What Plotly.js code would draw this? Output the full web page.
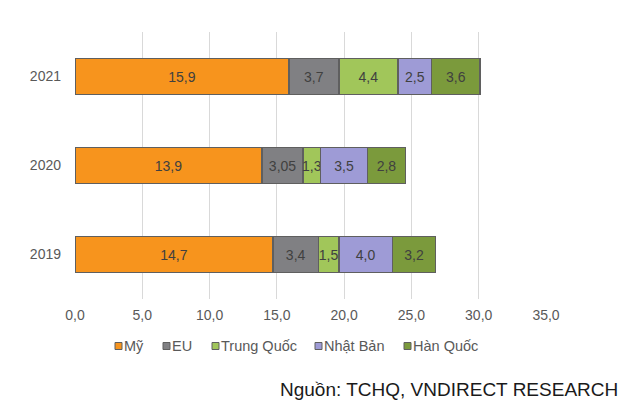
<!DOCTYPE html>
<html>
<head>
<meta charset="utf-8">
<script src="https://cdn.plot.ly/plotly-3.0.1.min.js"></script>
<style>html,body{margin:0;padding:0;background:#fff;}#chart{width:630px;height:406px;}</style>
</head>
<body>
<div id="chart"></div>
<script>
const years = ['2019', '2020', '2021'];
const seriesNames = ['Mỹ', 'EU', 'Trung Quốc', 'Nhật Bản', 'Hàn Quốc'];
const my = [14.7, 13.9, 15.9];
const eu = [3.4, 3.05, 3.7];
const trungQuoc = [1.5, 1.3, 4.4];
const nhatBan = [4.0, 3.5, 2.5];
const hanQuoc = [3.2, 2.8, 3.6];
const xTicks = [0, 5, 10, 15, 20, 25, 30, 35];
const sourceText = 'Nguồn: TCHQ, VNDIRECT RESEARCH';

const colors = ['#F7941D', '#808083', '#A1C65A', '#9E9BD6', '#7B9A3C'];
const allValues = [my, eu, trungQuoc, nhatBan, hanQuoc];

// plot area in pixels (for placing the custom legend / source in paper coords)
const PL = 75, PR = 546, PT = 32, PB = 299;
const px2x = p => (p - PL) / (PR - PL);
const px2y = p => (PB - p) / (PB - PT);
const legendLeft = [115, 163, 212, 315, 404];

function fmt(v) {
  const s = (Math.abs(Math.round(v * 10) - v * 10) < 1e-9) ? v.toFixed(1) : String(v);
  return s.replace('.', ',');
}

const traces = allValues.map((vals, i) => ({
  type: 'bar',
  orientation: 'h',
  name: seriesNames[i],
  y: years,
  x: vals,
  text: vals.map(fmt),
  textposition: 'inside',
  insidetextanchor: 'middle',
  constraintext: 'none',
  textangle: 0,
  textfont: {family: 'Liberation Sans, Arial, sans-serif', size: 14, color: '#404040'},
  marker: {color: colors[i], line: {color: '#5f5f5f', width: 1.5}},
  hoverinfo: 'skip'
}));

const shapes = [];
const annotations = [];
seriesNames.forEach((name, i) => {
  const x0 = legendLeft[i];
  shapes.push({
    type: 'rect', xref: 'paper', yref: 'paper',
    x0: px2x(x0), x1: px2x(x0 + 7),
    y0: px2y(342.5), y1: px2y(349.5),
    fillcolor: colors[i], line: {color: '#5f5f5f', width: 1}
  });
  annotations.push({
    text: name, xref: 'paper', yref: 'paper',
    x: px2x(x0 + 7.5), xanchor: 'left',
    y: px2y(346), yanchor: 'middle',
    showarrow: false, borderpad: 0,
    font: {family: 'Liberation Sans, Arial, sans-serif', size: 14.5, color: '#595959'}
  });
});
annotations.push({
  text: sourceText,
  xref: 'paper', yref: 'paper',
  x: px2x(619), xanchor: 'right',
  y: px2y(389), yanchor: 'middle',
  showarrow: false, borderpad: 0,
  font: {family: 'Liberation Sans, Arial, sans-serif', size: 19, color: '#1a1a1a'}
});

const layout = {
  width: 630,
  height: 406,
  margin: {l: PL, r: 630 - PR, t: PT, b: 406 - PB},
  barmode: 'stack',
  bargap: 0.6,
  paper_bgcolor: '#ffffff',
  plot_bgcolor: '#ffffff',
  font: {family: 'Liberation Sans, Arial, sans-serif', size: 14, color: '#595959'},
  separators: ',.',
  showlegend: false,
  xaxis: {
    range: [0, 35],
    tickvals: xTicks,
    tickformat: '.1f',
    showgrid: true,
    gridcolor: '#d9d9d9',
    gridwidth: 1,
    zeroline: false,
    showline: false,
    ticks: '',
    ticklabelstandoff: 6,
    fixedrange: true
  },
  yaxis: {
    type: 'category',
    categoryorder: 'array',
    categoryarray: years,
    showgrid: false,
    zeroline: false,
    showline: false,
    ticks: '',
    ticklabelstandoff: 13,
    fixedrange: true
  },
  shapes: shapes,
  annotations: annotations
};

Plotly.newPlot('chart', traces, layout, {displayModeBar: false, staticPlot: true});
</script>
</body>
</html>
